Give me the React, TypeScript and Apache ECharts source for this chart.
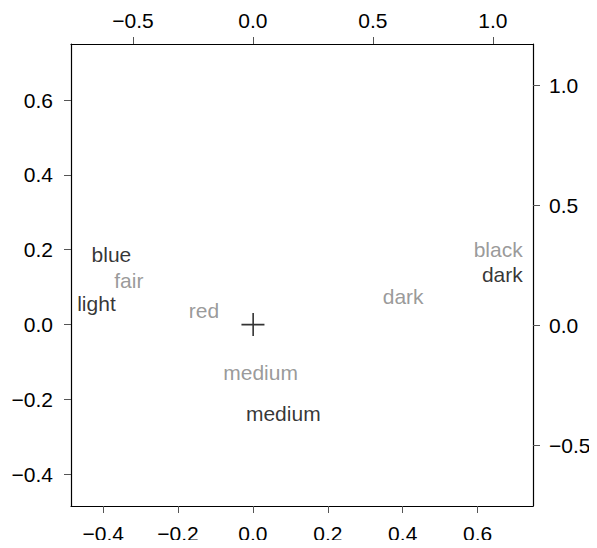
import React, { useEffect, useRef } from "react";
import * as echarts from "echarts";

// Row categories (eye colour), plotted on the bottom/left scale
const eyeNames = ["blue", "light", "medium", "dark"];
const eyeX = [-0.378, -0.418, 0.081, 0.666];
const eyeY = [0.188, 0.055, -0.237, 0.134];

// Column categories (hair colour), plotted on the top/right scale
const hairNames = ["fair", "red", "medium", "dark", "black"];
const hairX = [-0.517, -0.204, 0.032, 0.626, 1.022];
const hairY = [0.1875, 0.0625, -0.197, 0.118, 0.315];

// Axis ticks
const bottomTicks = [-0.4, -0.2, 0.0, 0.2, 0.4, 0.6];
const leftTicks = [-0.4, -0.2, 0.0, 0.2, 0.4, 0.6];
const topTicks = [-0.5, 0.0, 0.5, 1.0];
const rightTicks = [-0.5, 0.0, 0.5, 1.0];

const FONT = "'Liberation Sans', Arial, Helvetica, sans-serif";
const fmt = (v: number) => {
  const s = Math.abs(v).toFixed(1);
  return v < -1e-9 ? "\u2212" + s : s;
};

function axis(position: string, min: number, max: number, ticks: number[], margin: number) {
  return {
    type: "value",
    position,
    min,
    max,
    splitLine: { show: false },
    axisLine: { show: true, onZero: false, lineStyle: { color: "#000", width: 1.2 } },
    axisTick: {
      show: true,
      length: 7,
      customValues: ticks,
      lineStyle: { color: "#555", width: 1 },
    },
    axisLabel: {
      show: true,
      customValues: ticks,
      formatter: (v: number) => fmt(v),
      color: "#000",
      fontSize: 21,
      fontFamily: FONT,
      margin,
    },
  };
}

export default function App() {
  const ref = useRef<HTMLDivElement>(null);

  useEffect(() => {
    if (!ref.current) return;
    const chart = echarts.init(ref.current, undefined, { renderer: "svg" });

    const labelStyle = (color: string) => ({
      show: true,
      position: [0, 0],
      align: "center",
      verticalAlign: "middle",
      formatter: (p: any) => p.name,
      color,
      fontSize: 21,
      fontFamily: FONT,
    });

    chart.setOption({
      animation: false,
      backgroundColor: "#fff",
      grid: { left: 71, top: 44, width: 462, height: 462, containLabel: false },
      xAxis: [
        axis("bottom", -0.486, 0.748, bottomTicks, 17),
        axis("top", -0.758, 1.167, topTicks, 13),
      ],
      yAxis: [
        axis("left", -0.485, 0.75, leftTicks, 18),
        axis("right", -0.754, 1.171, rightTicks, 16),
      ],
      series: [
        {
          type: "scatter",
          xAxisIndex: 0,
          yAxisIndex: 0,
          symbolSize: 0,
          data: eyeNames.map((n, i) => ({ name: n, value: [eyeX[i], eyeY[i]] })),
          label: labelStyle("#000"),
        },
        {
          type: "scatter",
          xAxisIndex: 1,
          yAxisIndex: 1,
          symbolSize: 0,
          data: hairNames.map((n, i) => ({ name: n, value: [hairX[i], hairY[i]] })),
          label: labelStyle("#808080"),
        },
        {
          // origin marker
          type: "scatter",
          xAxisIndex: 0,
          yAxisIndex: 0,
          symbol: "path://M10.9,0h1.6v23h-1.6z M0,10.8h23v1.6h-23z",
          symbolSize: 23,
          symbolKeepAspect: true,
          itemStyle: { color: "#000" },
          data: [[0, 0]],
        },
      ],
    });

    return () => chart.dispose();
  }, []);

  return <div ref={ref} style={{ width: 597, height: 548, margin: -8 }} />;
}
